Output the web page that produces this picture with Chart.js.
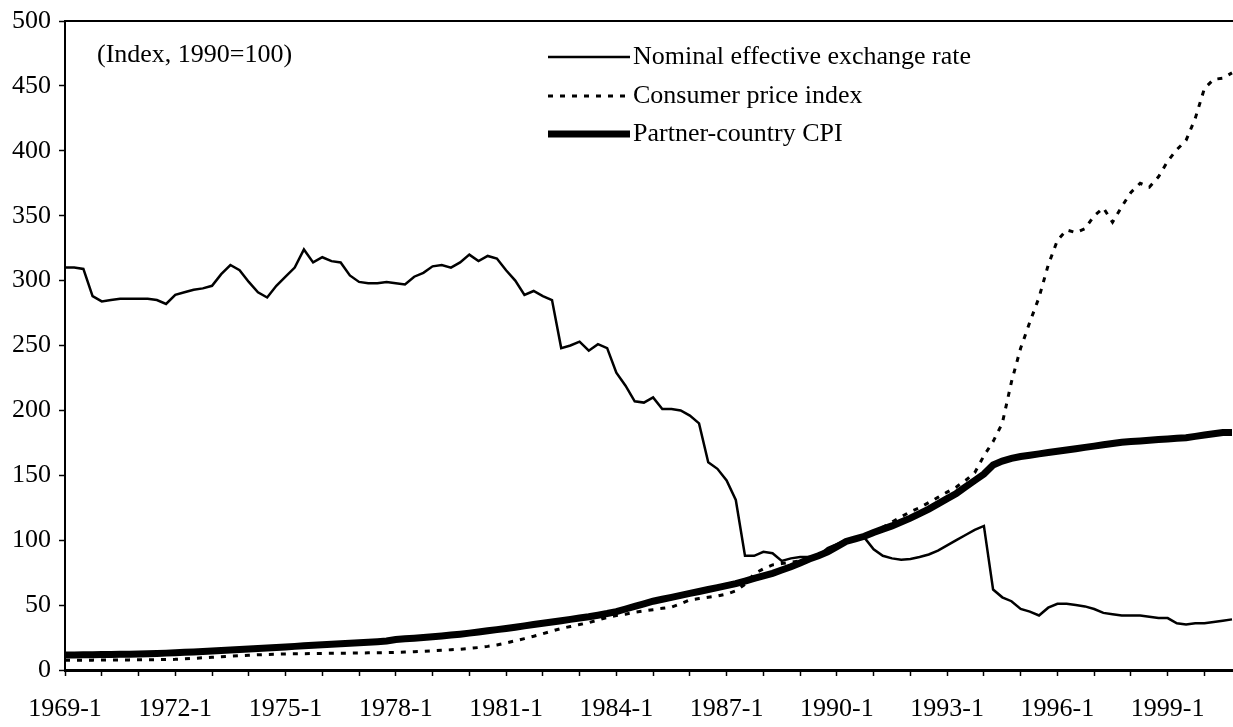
<!DOCTYPE html>
<html>
<head>
<meta charset="utf-8">
<title>Exchange rate and prices</title>
<script src="https://cdn.jsdelivr.net/npm/chart.js@4.4.1/dist/chart.umd.min.js"></script>
<style>
  html, body { margin: 0; padding: 0; background: #fff; }
  #wrap { width: 1233px; height: 727px; position: relative; }
</style>
</head>
<body>
<div id="wrap"><canvas id="chart"></canvas></div>
<script>
// quarters 1969-1 .. 2000-4
const years = [];
for (let y = 1969; y <= 2000; y++) years.push(y);
const quarters = [];
years.forEach(y => { for (let q = 1; q <= 4; q++) quarters.push(y + '-' + q); });

const yTicks = [0, 50, 100, 150, 200, 250, 300, 350, 400, 450, 500];

// Nominal effective exchange rate
const neer = [
  310, 310, 309, 288, 284, 285, 286, 286, 286, 286, 285, 282,
  289, 291, 293, 294, 296, 305, 312, 308, 299, 291, 287, 296,
  303, 310, 324, 314, 318, 315, 314, 304, 299, 298, 298, 299,
  298, 297, 303, 306, 311, 312, 310, 314, 320, 315, 319, 317,
  308, 300, 289, 292, 288, 285, 248, 250, 253, 246, 251, 248,
  229, 219, 207, 206, 210, 201, 201, 200, 196, 190, 160, 155,
  146, 131, 88, 88, 91, 90, 84, 86, 87, 87, 88, 94,
  97, 100, 101, 102, 93, 88, 86, 85, 85.5, 87, 89, 92,
  96, 100, 104, 108, 111, 62, 56, 53, 47, 45, 42, 48,
  51, 51, 50, 49, 47, 44, 43, 42, 42, 42, 41, 40,
  40, 36, 35, 36, 36, 37, 38, 39
];

// Consumer price index
const cpi = [
  7.5, 7.5, 7.6, 7.6, 7.7, 7.7, 7.8, 7.8, 7.9, 7.9, 8.0, 8.0,
  8.2, 8.6, 9.0, 9.4, 9.8, 10.2, 10.6, 11.0, 11.4, 11.7, 12.0, 12.2,
  12.4, 12.5, 12.6, 12.7, 12.8, 12.9, 13.0, 13.0, 13.1, 13.2, 13.3, 13.4,
  13.6, 13.8, 14.1, 14.4, 14.8, 15.2, 15.6, 16.0, 16.6, 17.3, 18.2, 19.3,
  20.8, 22.5, 24.2, 26, 28, 30, 32, 33.5, 35, 36.5, 38.5, 40.5,
  42, 43, 44.5, 45.5, 46.5, 47.5, 48.5, 51, 54, 55, 56, 57,
  58.5, 61, 66, 74, 78, 81, 82, 83, 84, 86, 88, 91,
  95, 98, 101, 104, 107, 110, 114, 118, 122, 125, 129, 133,
  137, 141, 146, 152, 165, 176, 190, 222, 248, 268, 287, 312,
  331, 339, 337, 340, 350, 356, 345, 357, 368, 375, 372, 380,
  392, 401, 408, 425, 448, 455, 456, 460
];

// Partner-country CPI
const partnerCpi = [
  11.5, 11.6, 11.7, 11.8, 11.9, 12.0, 12.1, 12.2, 12.4, 12.6, 12.8, 13.0,
  13.3, 13.6, 13.9, 14.2, 14.6, 15.0, 15.4, 15.8, 16.2, 16.6, 17.0, 17.4,
  17.8, 18.2, 18.6, 19.0, 19.4, 19.8, 20.2, 20.6, 21.0, 21.4, 21.8, 22.3,
  23.5, 24.0, 24.5, 25.0, 25.6, 26.2, 26.9, 27.6, 28.4, 29.3, 30.2, 31.1,
  32.0, 33.0, 34.0, 35.0, 36.0, 37.0, 38.0, 39.0, 40.0, 41.0, 42.2, 43.5,
  45, 47, 49, 51, 53, 54.5, 56, 57.5, 59, 60.5, 62, 63.5,
  65, 66.5, 68.5, 70.5, 72.5, 74.5, 77, 79.5, 82.5, 85.5, 88, 91,
  95, 99, 101, 103, 106, 108.5, 111, 114, 117, 120.5, 124, 128,
  132, 136, 141, 146, 151, 158, 161, 163, 164.5, 165.5, 166.5, 167.5,
  168.5, 169.5, 170.5, 171.5, 172.5, 173.5, 174.5, 175.5, 176, 176.5, 177, 177.5,
  178, 178.5, 179, 180, 181, 182, 183, 183
];

const seriesNames = ['Nominal effective exchange rate', 'Consumer price index', 'Partner-country CPI'];
const unitNote = '(Index, 1990=100)';

const serif = '"Liberation Serif", "DejaVu Serif", serif';
const tickFont = { family: serif, size: 26, lineHeight: 1 };

// legend + note + top frame line, drawn inside the plot
const legendPlugin = {
    id: 'insideLegend',
    afterDraw(chart) {
        const c = chart.ctx;
        const area = chart.chartArea;
        c.save();
        // top frame
        c.strokeStyle = '#000';
        c.lineWidth = 2;
        c.beginPath();
        c.moveTo(area.left, area.top);
        c.lineTo(chart.width, area.top);
        c.stroke();

        c.fillStyle = '#000';
        c.font = '26px ' + serif;
        c.textBaseline = 'middle';
        c.fillText(unitNote, 97, 55);

        const rows = [57, 96, 134];
        const x0 = 548, x1 = 630;
        chart.data.datasets.forEach((ds, i) => {
            const y = rows[i];
            c.beginPath();
            c.strokeStyle = '#000';
            c.lineWidth = ds.borderWidth;
            c.setLineDash(ds.borderDash || []);
            c.moveTo(x0, y);
            c.lineTo(x1, y);
            c.stroke();
            c.setLineDash([]);
            c.fillText(ds.label, x1 + 3, y);
        });
        c.restore();
    }
};

const ctx = document.getElementById('chart').getContext('2d');
const chart = new Chart(ctx, {
    type: 'line',
    data: {
        labels: quarters,
        datasets: [
            {
                label: seriesNames[0],
                data: neer,
                borderColor: '#000',
                borderWidth: 2.5,
                pointRadius: 0,
                tension: 0,
                order: 1
            },
            {
                label: seriesNames[1],
                data: cpi,
                borderColor: '#000',
                borderWidth: 3,
                borderDash: [5, 7],
                pointRadius: 0,
                tension: 0,
                order: 2
            },
            {
                label: seriesNames[2],
                data: partnerCpi,
                borderColor: '#000',
                borderWidth: 7,
                pointRadius: 0,
                tension: 0,
                order: 3
            }
        ]
    },
    options: {
        responsive: true,
        maintainAspectRatio: false,
        animation: false,
        layout: { padding: { top: 20, right: 1, left: 0, bottom: 0 } },
        plugins: {
            legend: { display: false },
            tooltip: { enabled: false }
        },
        scales: {
            x: {
                type: 'category',
                offset: false,
                afterFit(scale) { scale.height = 57; },
                border: { display: true, color: '#000', width: 3 },
                grid: {
                    drawOnChartArea: false,
                    drawTicks: true,
                    tickLength: 6,
                    tickColor: '#000',
                    tickWidth: 1.5
                },
                ticks: {
                    autoSkip: false,
                    maxRotation: 0,
                    minRotation: 0,
                    color: '#000',
                    font: tickFont,
                    padding: 20,
                    callback: function (val, i) {
                        if (i % 12 === 0 && i < 124) return quarters[i];
                        if (i % 4 === 0) return '';
                        return null;
                    }
                }
            },
            y: {
                min: 0,
                max: 500,
                afterFit(scale) { scale.width = 65; },
                afterBuildTicks(scale) { scale.ticks = yTicks.map(v => ({ value: v })); },
                border: { display: true, color: '#000', width: 2 },
                grid: {
                    drawOnChartArea: false,
                    drawTicks: true,
                    tickLength: 6,
                    tickColor: '#000',
                    tickWidth: 1.5
                },
                ticks: {
                    color: '#000',
                    font: tickFont,
                    padding: 8
                }
            }
        }
    },
    plugins: [legendPlugin]
});
</script>
</body>
</html>
